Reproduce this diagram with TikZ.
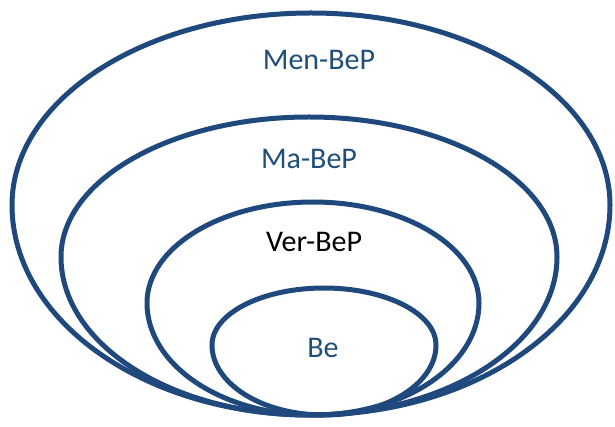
\documentclass[tikz,border=0pt]{standalone}
\usepackage{fontspec}
\setmainfont{Carlito}
\definecolor{ringblue}{RGB}{31,73,125}
\definecolor{labelblue}{RGB}{31,78,121}
\begin{document}
\begin{tikzpicture}[x=1pt,y=-1pt,
  ring/.style={draw=ringblue,line width=5pt,line join=round},
  lbl/.style={anchor=base,font=\fontsize{30}{30}\selectfont,inner sep=0pt}]
\useasboundingbox (0,0) rectangle (615,427);
% nested egg-shaped rings: upper half and lower half use different vertical radii
\draw[ring] (12,205) arc[start angle=180,end angle=360,x radius=299,y radius=192]
                     arc[start angle=0,end angle=180,x radius=299,y radius=210] -- cycle;
\draw[ring] (61,257) arc[start angle=180,end angle=360,x radius=248,y radius=140]
                     arc[start angle=0,end angle=180,x radius=248,y radius=158] -- cycle;
\draw[ring] (147,303) arc[start angle=180,end angle=360,x radius=166,y radius=101]
                      arc[start angle=0,end angle=180,x radius=166,y radius=112] -- cycle;
\draw[ring] (212,345) arc[start angle=180,end angle=360,x radius=112,y radius=57]
                      arc[start angle=0,end angle=180,x radius=112,y radius=70] -- cycle;
% labels
\node[lbl,text=labelblue] (men) at (319,70) {Men-BeP};
\node[lbl,text=labelblue] (ma)  at (309,169) {Ma-BeP};
\node[lbl,text=black]     (ver) at (314,252) {Ver-BeP};
\node[lbl,text=labelblue] (be)  at (323,357) {Be};
\end{tikzpicture}
\end{document}
